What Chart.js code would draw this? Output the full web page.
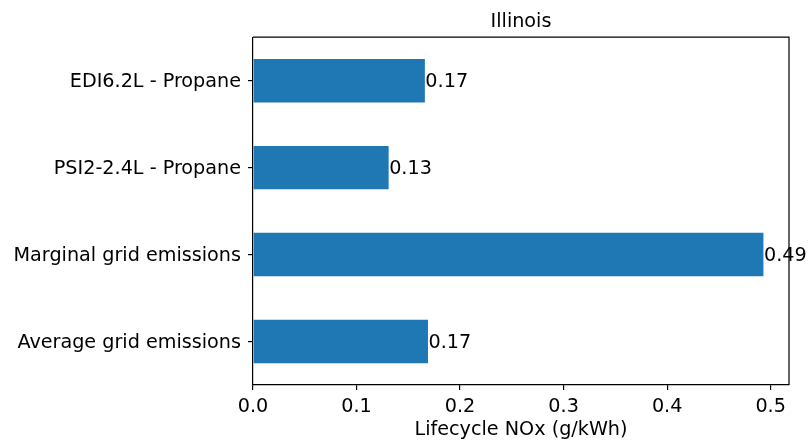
<!DOCTYPE html>
<html>
<head>
<meta charset="utf-8">
<script src="https://cdn.jsdelivr.net/npm/chart.js@4/dist/chart.umd.min.js"></script>
<style>
html,body{margin:0;padding:0;background:#fff;}
#wrap{width:809px;height:440px;}
</style>
</head>
<body>
<div id="wrap"><canvas id="c" width="809" height="440"></canvas></div>
<script>
const chartTitle = 'Illinois';
const xAxisTitle = 'Lifecycle NOx (g/kWh)';
const categories = ['EDI6.2L - Propane', 'PSI2-2.4L - Propane', 'Marginal grid emissions', 'Average grid emissions'];
const nox = [0.166, 0.131, 0.493, 0.169];
const xTicks = [0, 0.1, 0.2, 0.3, 0.4, 0.5];
const xTickLabels = ['0.0', '0.1', '0.2', '0.3', '0.4', '0.5'];

const FONT = 'DejaVu Sans';

const frame = {
  id: 'frame',
  afterDraw(chart) {
    const {ctx, chartArea: a} = chart;
    ctx.save();
    ctx.strokeStyle = '#000';
    ctx.lineWidth = 1.2;
    ctx.beginPath();
    ctx.moveTo(a.left, a.top); ctx.lineTo(a.right, a.top); ctx.lineTo(a.right, a.bottom);
    ctx.stroke();
    ctx.restore();
  }
};

const barLabels = {
  id: 'barLabels',
  afterDatasetsDraw(chart) {
    const {ctx} = chart;
    const meta = chart.getDatasetMeta(0);
    ctx.save();
    ctx.font = '19.2px "' + FONT + '"';
    ctx.fillStyle = '#000';
    ctx.textAlign = 'left';
    ctx.textBaseline = 'middle';
    meta.data.forEach((bar, i) => {
      ctx.fillText(nox[i].toFixed(2), bar.x + 0.5, bar.y + 1.5);
    });
    ctx.restore();
  }
};

new Chart(document.getElementById('c'), {
  type: 'bar',
  data: {
    labels: categories,
    datasets: [{
      data: nox,
      backgroundColor: '#1f77b4',
      borderWidth: 0,
      barPercentage: 0.5,
      categoryPercentage: 1.0
    }]
  },
  options: {
    indexAxis: 'y',
    responsive: false,
    animation: false,
    layout: {padding: {left: 0, right: 20, top: 0, bottom: 0}},
    plugins: {
      legend: {display: false},
      tooltip: {enabled: false},
      title: {
        display: true,
        text: chartTitle,
        fullSize: false,
        color: '#000',
        font: {family: FONT, size: 19.2, weight: 'normal', lineHeight: 1},
        padding: {top: 12.5, bottom: 5.5}
      }
    },
    scales: {
      x: {
        type: 'linear',
        min: 0,
        max: 0.5177,
        afterBuildTicks(scale) { scale.ticks = xTicks.map(v => ({value: v})); },
        afterFit(scale) { scale.height = 55; },
        grid: {display: true, drawOnChartArea: false, drawTicks: true, tickLength: 5, color: '#000', lineWidth: 1.2},
        border: {display: true, color: '#000', width: 1.2},
        ticks: {
          color: '#000',
          font: {family: FONT, size: 19.2},
          padding: 5,
          maxRotation: 0,
          callback: (v, i) => xTickLabels[i]
        },
        title: {
          display: true,
          text: xAxisTitle,
          color: '#000',
          font: {family: FONT, size: 19.2, lineHeight: 1},
          padding: {top: 0, bottom: 0}
        }
      },
      y: {
        type: 'category',
        offset: true,
        afterFit(scale) { scale.width = 253; },
        grid: {display: true, drawOnChartArea: false, drawTicks: true, tickLength: 5, color: '#000', lineWidth: 1.2, offset: false},
        border: {display: true, color: '#000', width: 1.2},
        ticks: {
          color: '#000',
          font: {family: FONT, size: 19.2},
          padding: 7,
          labelOffset: 1.5
        }
      }
    }
  },
  plugins: [frame, barLabels]
});
</script>
</body>
</html>
